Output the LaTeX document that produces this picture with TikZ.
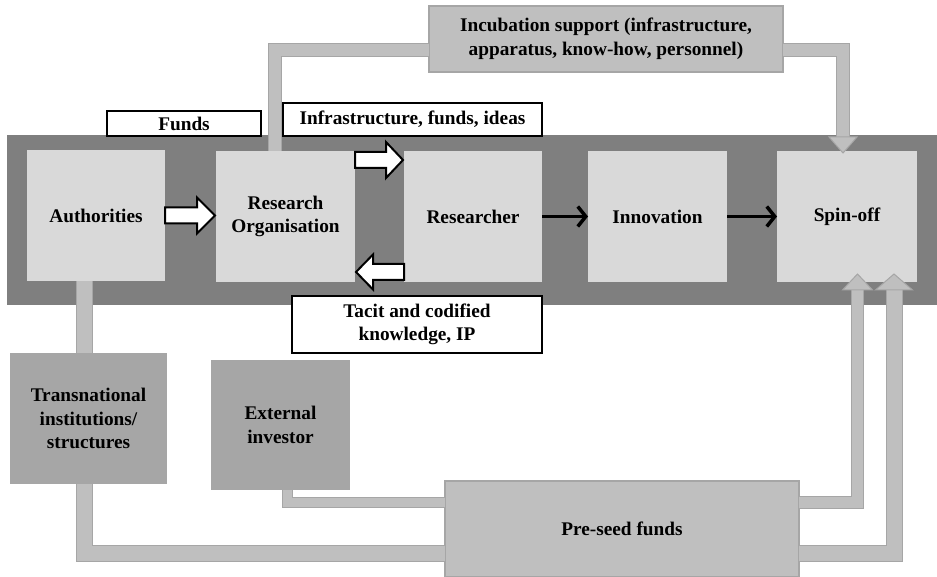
\documentclass[tikz,border=0pt]{standalone}
\usepackage{fontspec}
\setmainfont{Liberation Serif}
\usetikzlibrary{arrows.meta}
\definecolor{bandc}{HTML}{7F7F7F}
\definecolor{lightc}{HTML}{D9D9D9}
\definecolor{midc}{HTML}{A6A6A6}
\definecolor{barfill}{HTML}{BFBFBF}
\definecolor{barborder}{HTML}{A6A6A6}
\begin{document}
\begin{tikzpicture}[x=1pt,y=-1pt,
  every node/.style={inner sep=0pt,outer sep=0pt,align=center,font=\fontsize{19.3}{23.5}\selectfont\bfseries},
  lightbox/.style={fill=lightc},
  darkbox/.style={fill=midc},
  greybox/.style={fill=barfill,draw=barborder,line width=1.5pt},
  labelbox/.style={fill=white,draw=black,line width=2.2pt},
  bar/.style={draw=barborder,line width=1pt,double=barfill,double distance=#1,line join=miter},
  bar/.default=13pt,
  ghead/.style={fill=barfill,draw=barborder,line width=1pt,line join=miter},
  warrow/.style={fill=white,draw=black,line width=2pt,line join=miter},
  karrow/.style={line width=3.5pt,-{Straight Barb[length=8pt,width=20pt]}}]
\useasboundingbox (0,0) rectangle (937,577);
\fill[bandc] (7,135) rectangle (937,305);
% main row
\node[lightbox,minimum width=138pt,minimum height=131pt] (auth) at (96,215.5) {Authorities};
\node[lightbox,minimum width=139pt,minimum height=131pt] (ro) at (285.5,216.5) {Research\\Organisation};
\node[lightbox,minimum width=138pt,minimum height=131pt] (res) at (473,216.5) {Researcher};
\node[lightbox,minimum width=139pt,minimum height=131pt] (inno) at (657.5,216.5) {Innovation};
\node[lightbox,minimum width=140pt,minimum height=131pt] (spin) at (847,216.5) {Spin-off};
% other boxes
\node[greybox,minimum width=354pt,minimum height=66pt] (incub) at (606,39) {Incubation support (infrastructure,\\apparatus, know-how, personnel)};
\node[darkbox,minimum width=157pt,minimum height=131pt] (trans) at (88.5,418.5) {Transnational\\institutions/\\structures};
\node[darkbox,minimum width=139pt,minimum height=130pt] (ext) at (280.5,425) {External\\investor};
\node[greybox,minimum width=354pt,minimum height=96pt] (preseed) at (622,529) {Pre-seed funds};
% grey bar connectors
\draw[bar=12pt] ([yshift=-11.5pt]incub.west) -| ([xshift=-11pt]ro.north);
\draw[bar=12pt] ([yshift=-11.5pt]incub.east) -| ([xshift=-4pt,yshift=14pt]spin.north);
\begin{scope}[shift={([xshift=-4pt,yshift=14pt]spin.north)}]
  \draw[ghead] (-14,0) -- (14,0) -- (0,16) -- cycle;
\end{scope}
\draw[bar=15pt] ([xshift=-12pt]auth.south) -- ([xshift=-4.5pt]trans.north);
\draw[bar=15pt] ([xshift=-4.5pt]trans.south) |- ([yshift=-24.5pt]preseed.west);
\draw[bar=9pt] ([xshift=6.5pt]ext.south) |- ([yshift=27pt]preseed.west);
\draw[bar=11pt] ([yshift=27pt]preseed.east) -| ([xshift=10.5pt,yshift=-8pt]spin.south);
\begin{scope}[shift={([xshift=10.5pt,yshift=-8pt]spin.south)}]
  \draw[ghead] (-15,0) -- (15,0) -- (0,-16) -- cycle;
\end{scope}
\draw[bar=15pt] ([yshift=-24.5pt]preseed.east) -| ([xshift=47pt,yshift=-8pt]spin.south);
\begin{scope}[shift={([xshift=47pt,yshift=-8pt]spin.south)}]
  \draw[ghead] (-18.5,0) -- (18.5,0) -- (0,-16) -- cycle;
\end{scope}
% white block arrows
\begin{scope}[shift={(auth.east)}]
  \draw[warrow] (0,-8) -- (32,-8) -- (32,-18) -- (50,0) -- (32,18) -- (32,8) -- (0,8) -- cycle;
\end{scope}
\begin{scope}[shift={([yshift=56.5pt]ro.east)}]
  \draw[warrow] (0,-8) -- (31,-8) -- (31,-18) -- (48,0) -- (31,18) -- (31,8) -- (0,8) -- cycle;
\end{scope}
\begin{scope}[shift={([yshift=-55.5pt]res.west)},xscale=-1]
  \draw[warrow] (0,-8) -- (31,-8) -- (31,-17.5) -- (48,0) -- (31,17.5) -- (31,8) -- (0,8) -- cycle;
\end{scope}
% black arrows
\draw[karrow] (res.east) -- (inno.west);
\draw[karrow] (inno.east) -- (spin.west);
% label boxes
\node[labelbox,minimum width=154pt,minimum height=25pt] (funds) at (184,123.5) {Funds};
\node[labelbox,minimum width=259pt,minimum height=33pt] (infra) at (412.5,119.5) {Infrastructure, funds, ideas};
\node[labelbox,minimum width=250pt,minimum height=57pt] (tacit) at (417,324.5) {Tacit and codified\\knowledge, IP};
\end{tikzpicture}
\end{document}
